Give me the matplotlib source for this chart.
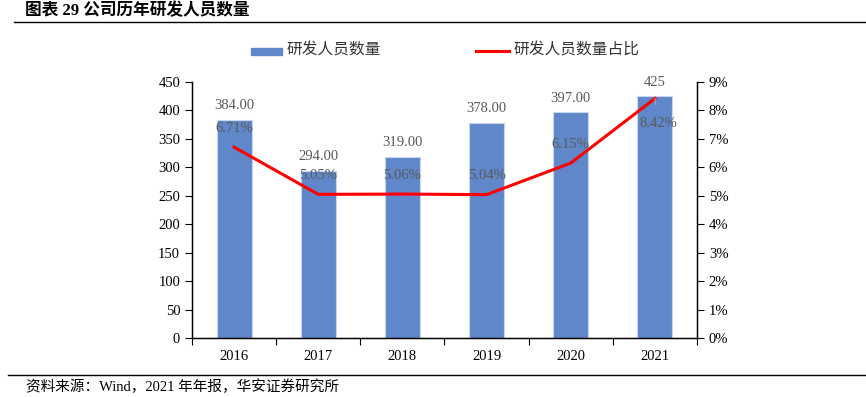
import matplotlib
matplotlib.use("Agg")
import matplotlib.pyplot as plt
from matplotlib.ticker import FuncFormatter, MultipleLocator
import numpy as np

plt.rcParams['font.family'] = ['Liberation Serif', 'Noto Sans CJK SC']

years = ['2016', '2017', '2018', '2019', '2020', '2021']
staff = [384, 294, 319, 378, 397, 425]
staff_labels = ['384.00', '294.00', '319.00', '378.00', '397.00', '425']
share = [6.71, 5.05, 5.06, 5.04, 6.15, 8.42]
share_labels = ['6.71%', '5.05%', '5.06%', '5.04%', '6.15%', '8.42%']

fig = plt.figure(figsize=(8.66, 3.97), dpi=100)
ax = fig.add_axes([192/866, 1-338/397, (697-192)/866, (338-82)/397])
ax2 = ax.twinx()

x = np.arange(len(years))
bar_color = '#5F87C9'
ax.bar(x, staff, width=0.415, color=bar_color, edgecolor='#C9D6EE', linewidth=0.8, zorder=2)
ax.set_ylim(0, 450)
ax.set_xlim(-0.5, 5.5)
ax.yaxis.set_major_locator(MultipleLocator(50))
ax.set_xticks(np.arange(-0.5, 6, 1))
ax.set_xticklabels([])
ax.set_xticks(x, minor=True)
ax.set_xticklabels(years, minor=True)
ax.tick_params(axis='x', which='major', direction='out', length=5, color='black')
ax.tick_params(axis='x', which='minor', length=0, pad=9, labelsize=10.5)
ax.tick_params(axis='y', direction='out', length=5, labelsize=10.5)
ax.spines['top'].set_visible(False)
ax2.spines['top'].set_visible(False)
ax.spines['left'].set_linewidth(1.0)
ax.spines['bottom'].set_linewidth(1.0)
ax2.spines['right'].set_linewidth(1.0)

ax2.plot(x, share, color='#FF0000', linewidth=2.2, zorder=3)
ax2.set_ylim(0, 9)
ax2.yaxis.set_major_locator(MultipleLocator(1))
ax2.yaxis.set_major_formatter(FuncFormatter(lambda v, p: f'{int(round(v))}%'))
ax2.tick_params(axis='y', direction='out', length=5, labelsize=10.5)

lab_color = '#595959'
for xi, v, t in zip(x, staff, staff_labels):
    ax.annotate(t, (xi, v), xytext=(0, 14), textcoords='offset pixels',
                ha='center', va='center', fontsize=10.5, color=lab_color)
for i, (xi, v, t) in enumerate(zip(x, share, share_labels)):
    if i == 5:
        ax2.annotate(t, (xi, v), xytext=(3, -25), textcoords='offset pixels',
                     ha='center', va='center', fontsize=10.5, color=lab_color,
                     arrowprops=dict(arrowstyle='-', color='#A6A6A6', lw=0.8, shrinkA=7, shrinkB=0))
    else:
        ax2.annotate(t, (xi, v), xytext=(0, 19), textcoords='offset pixels',
                     ha='center', va='center', fontsize=10.5, color=lab_color)

# legend
fig.patches.append(plt.Rectangle((251/866, 1-54.7/397), 31/866, 7.2/397, transform=fig.transFigure,
                                 color=bar_color, figure=fig))
fig.text(287/866, 1-50/397, '研发人员数量', ha='left', va='center', fontsize=11.3,
         family=['Noto Sans CJK SC'], color='#333333')
fig.add_artist(plt.Line2D([476/866, 509/866], [1-50.6/397, 1-50.6/397], color='#FF0000', lw=2.2,
                          transform=fig.transFigure))
fig.text(514/866, 1-50/397, '研发人员数量占比', ha='left', va='center', fontsize=11.3,
         family=['Noto Sans CJK SC'], color='#333333')

# title and footer
fig.text(25/866, 1-11/397, '图表 29 公司历年研发人员数量', ha='left', va='center', fontsize=12,
         fontweight='bold', family=['Liberation Serif', 'Noto Sans CJK SC'])
fig.add_artist(plt.Line2D([14/866, 1.0], [1-22/397, 1-22/397], color='black', lw=1.0,
                          transform=fig.transFigure))
fig.add_artist(plt.Line2D([8/866, 1.0], [1-375/397, 1-375/397], color='black', lw=1.0,
                          transform=fig.transFigure))
fig.text(26/866, 1-387/397, '资料来源：Wind，2021 年年报，华安证券研究所', ha='left', va='center',
         fontsize=10.5, family=['Liberation Serif', 'Noto Sans CJK SC'])

fig.savefig('out.png', dpi=100)
